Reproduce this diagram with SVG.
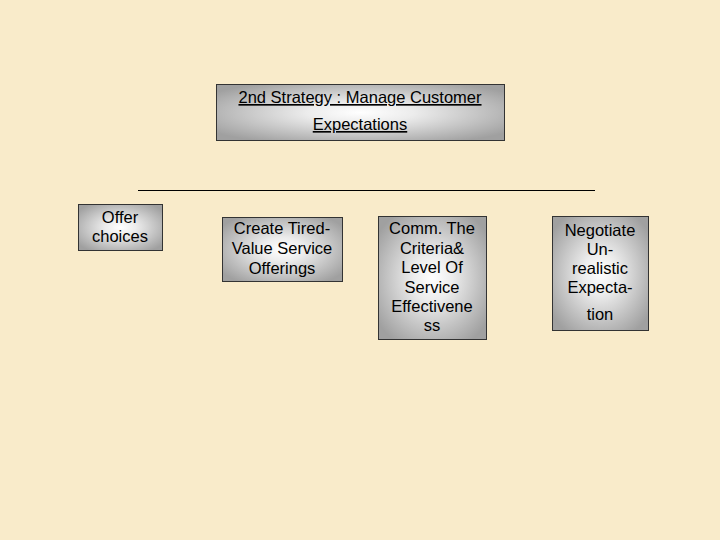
<svg xmlns="http://www.w3.org/2000/svg" width="720" height="540" viewBox="0 0 720 540">
<defs>
<radialGradient id="g" cx="50%" cy="50%" r="62%">
<stop offset="0" stop-color="#ffffff"/>
<stop offset="0.3" stop-color="#ececec"/>
<stop offset="1" stop-color="#a0a0a0"/>
</radialGradient>
<style>
.box{fill:url(#g);stroke:#333;stroke-width:1}
text{font-family:"Liberation Sans",Arial,sans-serif;font-size:16.5px;fill:#000;text-anchor:middle}
.u{text-decoration:underline}
</style>
</defs>
<rect width="720" height="540" fill="#f9ebca"/>
<g id="title">
<rect class="box" x="216.5" y="84.5" width="288" height="56"/>
<text class="u" x="360" y="103">2nd Strategy : Manage Customer</text>
<text class="u" x="360" y="130">Expectations</text>
</g>
<g id="connectors">
<line x1="138" y1="190.5" x2="595" y2="190.5" stroke="#000" stroke-width="1"/>
</g>
<g id="offer">
<rect class="box" x="78.5" y="204.5" width="84" height="46"/>
<text x="120" y="223">Offer</text>
<text x="120" y="242">choices</text>
</g>
<g id="create">
<rect class="box" x="222.5" y="217.5" width="120" height="64"/>
<text x="282" y="234">Create Tired-</text>
<text x="282" y="254">Value Service</text>
<text x="282" y="274">Offerings</text>
</g>
<g id="comm">
<rect class="box" x="378.5" y="216.5" width="108" height="123"/>
<text x="432" y="234">Comm. The</text>
<text x="432" y="254">Criteria&amp;</text>
<text x="432" y="273">Level Of</text>
<text x="432" y="293">Service</text>
<text x="432" y="312">Effectivene</text>
<text x="432" y="331">ss</text>
</g>
<g id="negotiate">
<rect class="box" x="552.5" y="216.5" width="96" height="114"/>
<text x="600" y="236">Negotiate</text>
<text x="600" y="255">Un-</text>
<text x="600" y="274">realistic</text>
<text x="600" y="293">Expecta-</text>
<text x="600" y="320">tion</text>
</g>
</svg>
